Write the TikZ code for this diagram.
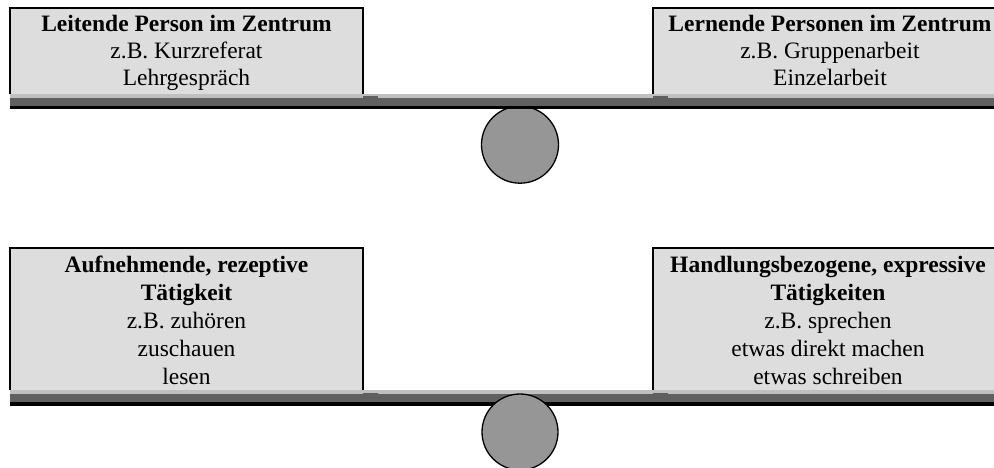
\documentclass[tikz,border=0pt]{standalone}
\usepackage{fontspec}
\setmainfont{Liberation Serif}
\definecolor{boxfill}{HTML}{DDDDDD}
\definecolor{ballfill}{HTML}{969696}
\definecolor{barlight}{HTML}{C0C0C0}
\definecolor{bardark}{HTML}{606060}
\tikzset{
  boxbg/.style={fill=boxfill},
  boxedge/.style={draw=black,line width=1.6pt},
  ball/.style={fill=ballfill,draw=black,line width=1.3pt},
  txt/.style={anchor=base,align=center,inner sep=0pt,font=\fontsize{23.5}{26.7}\selectfont},
  txtb/.style={anchor=base,align=center,inner sep=0pt,font=\fontsize{23.5}{28}\selectfont},
}
\begin{document}
\begin{tikzpicture}[x=1pt,y=-1pt]
\useasboundingbox (0,0) rectangle (994,468);
\clip (0,0) rectangle (994,468);
% ---------- upper seesaw ----------
\draw[ball] (520,144.7) circle (38.5);
\fill[barlight] (10,94.3) rectangle (994,97.7);
\fill[bardark] (10,97.7) rectangle (994,105.7);
\fill[black] (10,105.7) rectangle (994,109);
\fill[bardark] (363,96) rectangle (378,98.5);
\fill[bardark] (653,96) rectangle (668,98.5);
% boxes
\fill[boxbg] (10,8) rectangle (363,94.3);
\draw[boxedge] (9.8,94.3) |- (363,8) -- (363,94.3);
\fill[boxbg] (653,8) rectangle (1008,94.3);
\draw[boxedge] (653,94.3) |- (1008,8);
\node[txt] (tl) at (186.5,85.3) {\textbf{Leitende Person im Zentrum}\\z.B. Kurzreferat\\Lehrgespräch};
\node[txt] (tr) at (830,85.3) {\textbf{Lernende Personen im Zentrum}\\z.B. Gruppenarbeit\\Einzelarbeit};
% ---------- lower seesaw ----------
\fill[barlight] (10,390) rectangle (994,394);
\fill[bardark] (10,394) rectangle (994,402.3);
\fill[black] (10,402.3) rectangle (994,405.7);
\fill[bardark] (363,392.5) rectangle (378,394.5);
\fill[bardark] (653,392.5) rectangle (668,394.5);
\draw[ball] (520,432) circle (38);
\fill[boxbg] (10,248) rectangle (363,390);
\draw[boxedge] (9.8,390) |- (363,248) -- (363,390);
\fill[boxbg] (653,248) rectangle (1008,390);
\draw[boxedge] (653,390) |- (1008,248);
\node[txtb] (bl) at (186.5,384) {\textbf{Aufnehmende, rezeptive}\\\textbf{Tätigkeit}\\z.B. zuhören\\zuschauen\\lesen};
\node[txtb] (br) at (828,384) {\textbf{Handlungsbezogene, expressive}\\\textbf{Tätigkeiten}\\z.B. sprechen\\etwas direkt machen\\etwas schreiben};
\end{tikzpicture}
\end{document}
